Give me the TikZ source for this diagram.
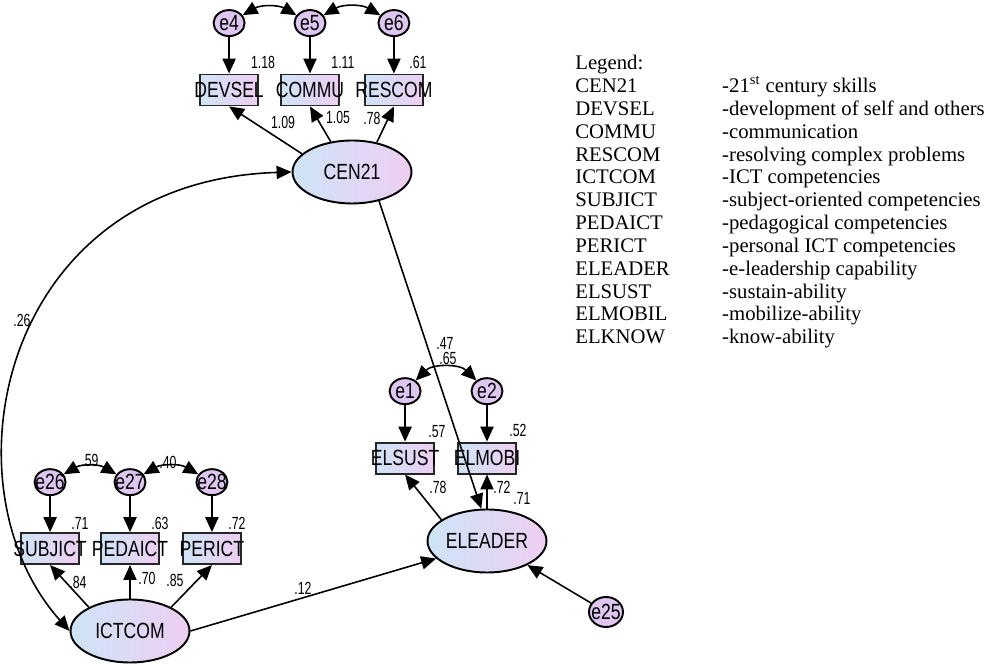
\documentclass[tikz,border=0pt]{standalone}
\usepackage{fontspec}
\setmainfont{Liberation Serif}
\newfontfamily\amosfont[FakeStretch=0.8]{Liberation Sans}
\newfontfamily\amosnum[FakeStretch=0.7]{Liberation Sans}
\usepackage{xcolor}
\definecolor{latblue}{RGB}{206,228,246}
\definecolor{latpink}{RGB}{238,206,242}
\definecolor{errlav}{RGB}{222,198,240}
\usepackage{tikz}
\usetikzlibrary{positioning}
\usetikzlibrary{shapes.geometric, arrows.meta}
\newcommand{\nowd}[1]{\makebox[0pt]{#1}}
\tikzstyle{latent} = [ellipse, minimum width=2.38cm, minimum height=1.26cm, inner sep=0pt, draw=black, line width=1.1pt, left color=latblue, right color=latpink, font=\amosfont\fontsize{12.5}{14}\selectfont]
\tikzstyle{observed} = [rectangle, minimum width=1.16cm, minimum height=0.62cm, inner sep=0pt, draw=black!85, line width=1.1pt, left color=latblue, right color=latpink, font=\amosfont\fontsize{12.5}{14}\selectfont]
\tikzstyle{error} = [ellipse, minimum width=0.62cm, minimum height=0.52cm, inner sep=0pt, draw=black, line width=1.1pt, fill=errlav, font=\amosfont\fontsize{12.5}{14}\selectfont]
\tikzstyle{coef} = [inner sep=0pt, font=\amosnum\fontsize{10}{11}\selectfont]
\tikzstyle{regress} = [line width=0.9pt, -{Triangle[length=8.5pt,width=7.5pt]}]
\tikzstyle{covar} = [line width=0.9pt, {Triangle[length=8.5pt,width=7.5pt]}-{Triangle[length=8.5pt,width=7.5pt]}]

\begin{document}
\begin{tikzpicture}[x=0.02cm, y=0.02cm]
	\useasboundingbox (0,0) rectangle (998,666);
	\node (cen)[latent] at (352,494) {CEN21};
	\node (ictcom)[latent] at (130,35) {ICTCOM};
	\node (eleader)[latent] at (487,125) {ELEADER};
	\node (commu)[observed] at (310,576) {\nowd{COMMU}};
	\node (devsel)[observed, left=0.42cm of commu] {\nowd{DEVSEL}};
	\node (rescom)[observed, right=0.48cm of commu] {\nowd{RESCOM}};
	\node (pedaict)[observed, above=0.67cm of ictcom] {\nowd{PEDAICT}};
	\node (subjict)[observed, left=0.4cm of pedaict] {\nowd{SUBJICT}};
	\node (perict)[observed, right=0.44cm of pedaict] {\nowd{PERICT}};
	\node (elmobi)[observed, above=0.68cm of eleader] {\nowd{ELMOBI}};
	\node (elsust)[observed, left=0.44cm of elmobi] {\nowd{ELSUST}};
	\node (e4)[error, above=0.73cm of devsel] {\nowd{e4}};
	\node (e5)[error, above=0.73cm of commu] {\nowd{e5}};
	\node (e6)[error, above=0.73cm of rescom] {\nowd{e6}};
	\node (e26)[error, above=0.72cm of subjict] {\nowd{e26}};
	\node (e27)[error, above=0.72cm of pedaict] {\nowd{e27}};
	\node (e28)[error, above=0.72cm of perict] {\nowd{e28}};
	\node (e1)[error, above=0.73cm of elsust] {\nowd{e1}};
	\node (e2)[error, above=0.73cm of elmobi] {\nowd{e2}};
	\node (e25)[error, minimum width=0.68cm, minimum height=0.6cm] at (606,54) {\nowd{e25}};
	\node (devselr)[coef] at (263,604) {1.18};
	\node (commur)[coef] at (343,604) {1.11};
	\node (rescomr)[coef] at (418,604) {.61};
	\node (devselw)[coef] at (283,544) {1.09};
	\node (commuw)[coef] at (338,549) {1.05};
	\node (rescomw)[coef] at (372,548) {.78};
	\node (cov2627)[coef] at (90,206) {.59};
	\node (cov2728)[coef] at (168,204) {.40};
	\node (subjictr)[coef] at (80,143) {.71};
	\node (pedaictr)[coef] at (160,143) {.63};
	\node (perictr)[coef] at (237,143) {.72};
	\node (subjictw)[coef] at (78,84) {.84};
	\node (pedaictw)[coef] at (147,88) {.70};
	\node (perictw)[coef] at (175,86) {.85};
	\node (cenele)[coef] at (445,323) {.47};
	\node (cov12)[coef] at (448,308) {.65};
	\node (elsustr)[coef] at (437,234) {.57};
	\node (elmobir)[coef] at (518,236) {.52};
	\node (elsustw)[coef] at (438,179) {.78};
	\node (elmobiw)[coef] at (502,179) {.72};
	\node (eleaderr)[coef] at (522,168) {.71};
	\node (ictele)[coef] at (303,78) {.12};
	\node (ictcen)[coef] at (22,346) {.26};
	\node (legend)[anchor=north west, inner sep=0pt, font=\fontsize{11.8}{13}\selectfont] at (575,612.6) {%
		\begin{tabular}{@{}p{83.6pt}@{}l@{}}
		Legend: & \\
		CEN21 & -21\textsuperscript{st} century skills\\
		DEVSEL & -development of self and others\\
		COMMU & -communication\\
		RESCOM & -resolving complex problems\\
		ICTCOM & -ICT competencies\\
		SUBJICT & -subject-oriented competencies\\
		PEDAICT & -pedagogical competencies\\
		PERICT & -personal ICT competencies\\
		ELEADER & -e-leadership capability\\
		ELSUST & -sustain-ability\\
		ELMOBIL & -mobilize-ability\\
		ELKNOW & -know-ability
		\end{tabular}};
	\draw [regress] (e4) -- (devsel);
	\draw [regress] (e5) -- (commu);
	\draw [regress] (e6) -- (rescom);
	\draw [regress] (e26) -- (subjict);
	\draw [regress] (e27) -- (pedaict);
	\draw [regress] (e28) -- (perict);
	\draw [regress] (e1) -- (elsust);
	\draw [regress] (e2) -- (elmobi);
	\draw [regress] (cen.160) -- (devsel.south);
	\draw [regress] (cen.125) -- (commu.south);
	\draw [regress] (cen.50) -- (rescom.south);
	\draw [regress] (ictcom.150) -- (subjict.south);
	\draw [regress] (ictcom.north) -- (pedaict.south);
	\draw [regress] (ictcom.30) -- (perict.south);
	\draw [regress] (eleader.155) -- (elsust.south);
	\draw [regress] (eleader.north) -- (elmobi.south);
	\draw [regress] (cen.-47) -- (eleader.100);
	\draw [regress] (ictcom.east) -- (eleader.199);
	\draw [regress] (e25) -- (eleader);
	\draw [covar] (e4) to[bend left=30] (e5);
	\draw [covar] (e5) to[bend left=30] (e6);
	\draw [covar] (e26) to[bend left=30] (e27);
	\draw [covar] (e27) to[bend left=30] (e28);
	\draw [covar] (e1) to[bend left=45] (e2);
	\draw [covar] (ictcom.west) .. controls (-60,180) and (0,485) .. (cen.west);
\end{tikzpicture}
\end{document}
